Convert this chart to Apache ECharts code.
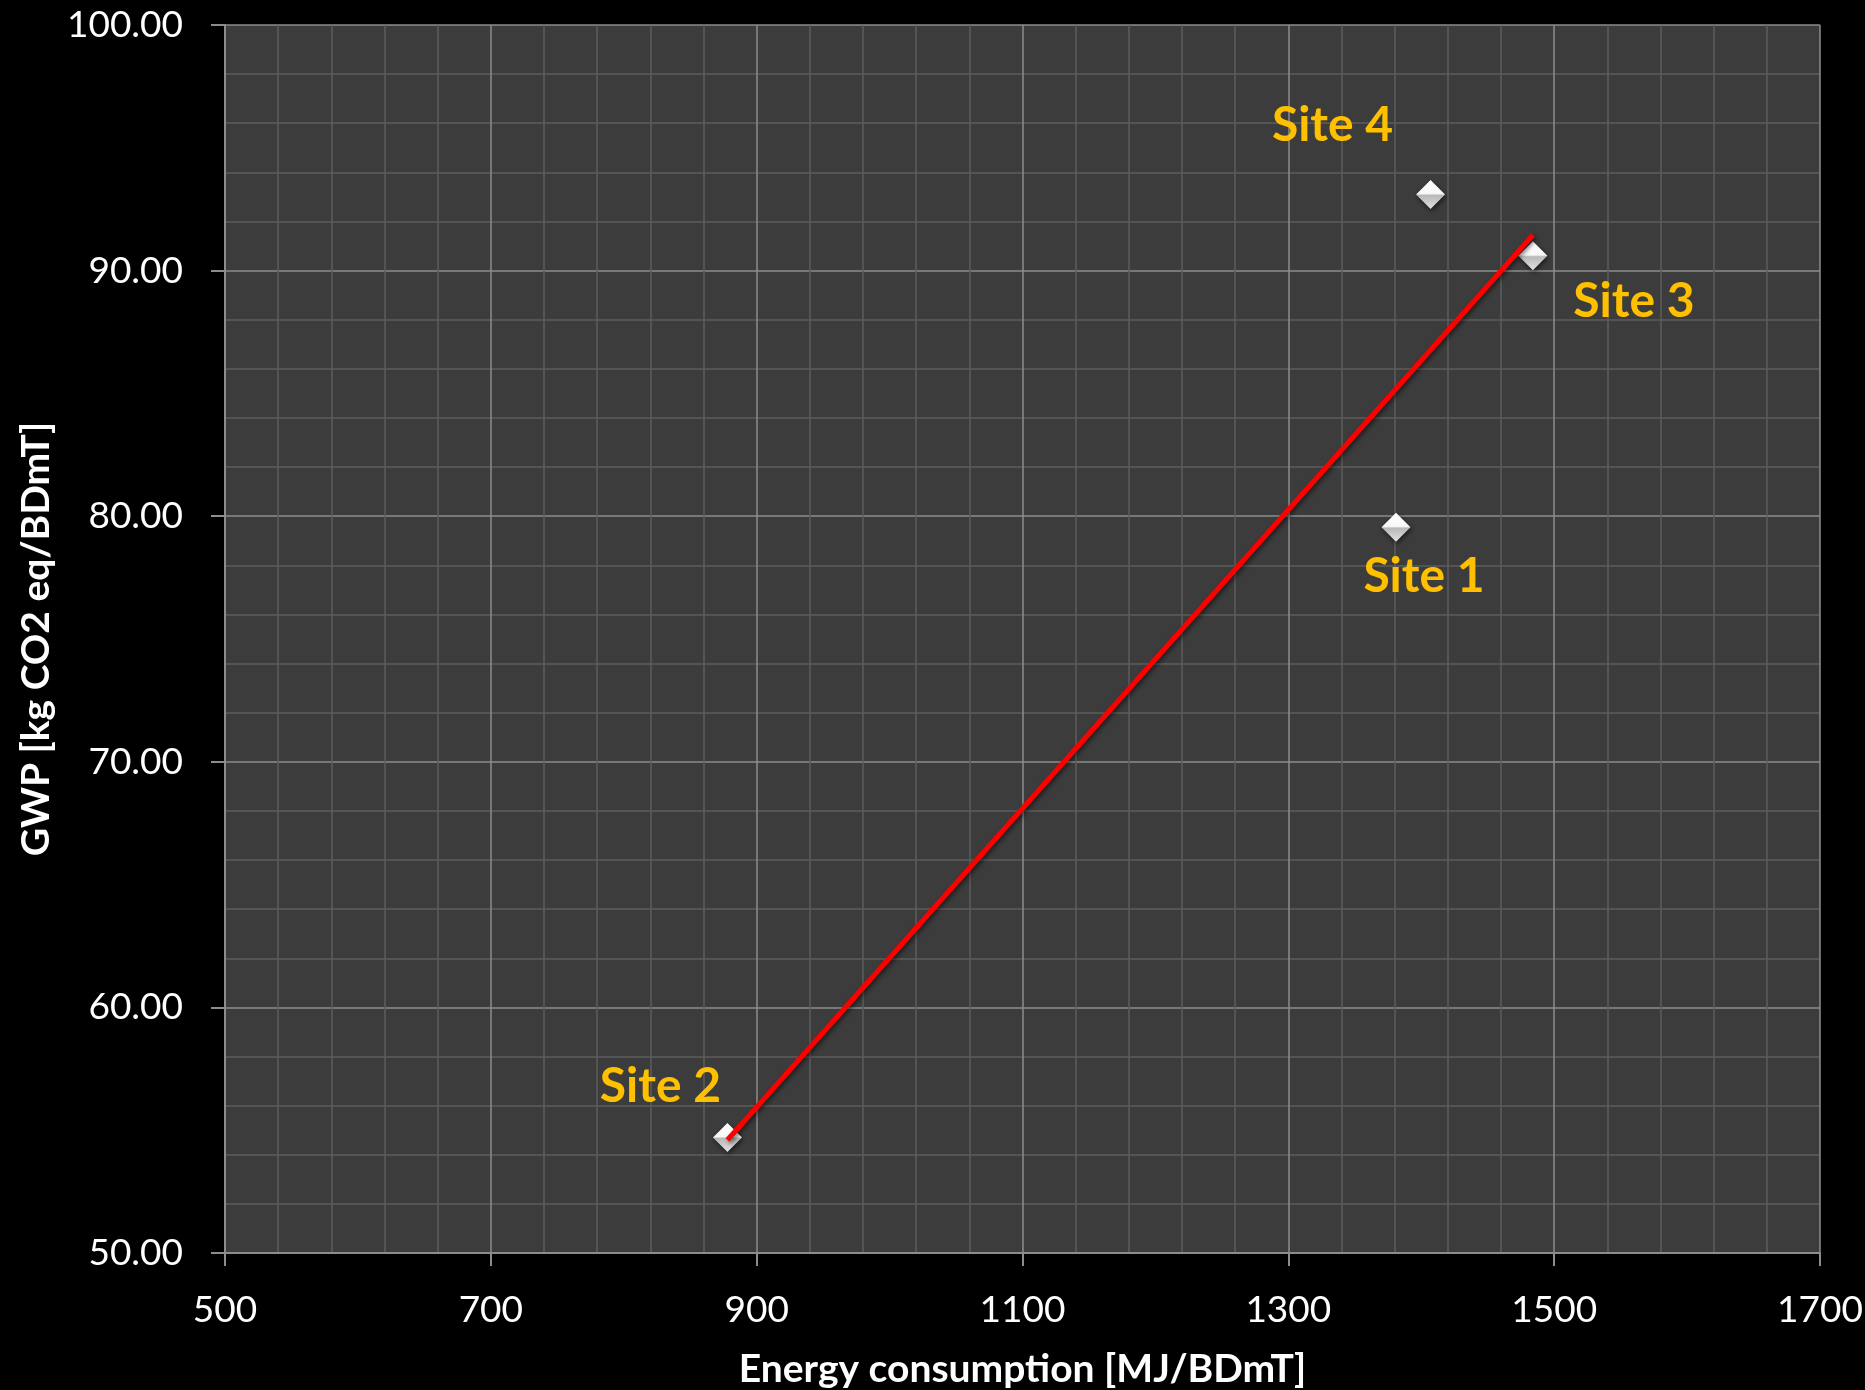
<!DOCTYPE html>
<html>
<head>
<meta charset="utf-8">
<script src="https://cdn.jsdelivr.net/npm/echarts@6/dist/echarts.min.js"></script>
<style>
html,body{margin:0;padding:0;background:#000;}
#chart{width:1865px;height:1390px;}
</style>
</head>
<body>
<div id="chart"></div>
<script>
// ---- data ----
const sites = ['Site 1', 'Site 2', 'Site 3', 'Site 4'];
const energy = [1381, 878, 1484, 1407];           // MJ/BDmT
const gwp = [79.55, 54.7, 90.6, 93.1];            // kg CO2 eq/BDmT
const trendX = [878, 1484];                       // linear trend line ends
const trendY = [54.6, 91.45];
const xTicks = [500, 700, 900, 1100, 1300, 1500, 1700];
const yTicks = [50, 60, 70, 80, 90, 100];

// ---- styling ----
const labelOffsets = [[28, 49], [-67, -51], [101, 46], [-98, -69]];
const MAJOR = '#8c8c8c', MINOR = '#5c5c5c', FONT = 'Lato, "Open Sans", sans-serif';

const xGridColors = [];
for (let i = 0; i < 10; i++) xGridColors.push(i === 0 ? MAJOR : (i % 2 === 0 ? MINOR : 'rgba(0,0,0,0)'));

const chart = echarts.init(document.getElementById('chart'));
chart.setOption({
  backgroundColor: '#000',
  animation: false,
  grid: { left: 225, top: 25, right: 45, bottom: 137, containLabel: false, outerBoundsMode: 'none',
          backgroundColor: '#3c3c3c', show: true, borderWidth: 0 },
  xAxis: [{
    type: 'value', min: xTicks[0], max: xTicks[xTicks.length - 1], position: 'bottom',
    name: 'Energy consumption [MJ/BDmT]', nameLocation: 'middle', nameGap: 97,
    nameTextStyle: { color: '#fff', fontSize: 39, fontWeight: 'bold', fontFamily: FONT },
    axisLine: { show: true, lineStyle: { color: '#8c8c8c', width: 2 } },
    axisTick: { show: true, customValues: xTicks, length: 13, lineStyle: { color: '#8c8c8c', width: 2 } },
    axisLabel: { show: true, customValues: xTicks, margin: 39, color: '#fff', fontSize: 37, fontFamily: FONT,
                 formatter: v => String(v) },
    splitLine: { show: false }
  }, {
    type: 'value', min: xTicks[0], max: xTicks[xTicks.length - 1], interval: 20, position: 'bottom',
    axisLine: { show: false }, axisTick: { show: false }, axisLabel: { show: false },
    splitLine: { show: true, lineStyle: { color: xGridColors, width: 1.5 } }
  }],
  yAxis: {
    type: 'value', min: yTicks[0], max: yTicks[yTicks.length - 1], interval: 10,
    name: 'GWP [kg CO2 eq/BDmT]', nameLocation: 'middle', nameGap: 168, nameRotate: 90,
    nameTextStyle: { color: '#fff', fontSize: 39, fontWeight: 'bold', fontFamily: FONT },
    axisLine: { show: true, lineStyle: { color: '#8c8c8c', width: 2 } },
    axisTick: { show: true, length: 14, lineStyle: { color: '#8c8c8c', width: 2 } },
    axisLabel: { margin: 42, color: '#fff', fontSize: 37, fontFamily: FONT, formatter: v => v.toFixed(2) },
    splitLine: { show: true, lineStyle: { color: MAJOR, width: 1.5 } },
    minorTick: { show: false, splitNumber: 5 },
    minorSplitLine: { show: true, lineStyle: { color: MINOR, width: 1.5 } }
  },
  series: [{
    type: 'scatter', z: 2,
    symbol: 'diamond', symbolSize: 29,
    itemStyle: {
      opacity: 1,
      color: new echarts.graphic.LinearGradient(0, 0, 0, 1, [
        { offset: 0, color: '#ffffff' }, { offset: 0.47, color: '#f8f8f8' },
        { offset: 0.53, color: '#b8b8b8' }, { offset: 1, color: '#e2e2e2' }]),
      shadowColor: 'rgba(0,0,0,0.6)', shadowBlur: 5, shadowOffsetX: 1, shadowOffsetY: 2
    },
    label: {
      show: true, position: 'inside', formatter: p => p.name, opacity: 1,
      color: '#FFC000', fontSize: 48, fontWeight: 'bold', fontFamily: FONT,
      textBorderWidth: 0, textBorderColor: 'transparent'
    },
    data: sites.map((s, i) => ({ name: s, value: [energy[i], gwp[i]], label: { offset: labelOffsets[i] } }))
  }, {
    type: 'line', z: 3, symbol: 'none',
    lineStyle: { color: '#ff0000', width: 5, shadowColor: 'rgba(0,0,0,0.5)', shadowBlur: 4, shadowOffsetX: 2, shadowOffsetY: 2 },
    data: trendX.map((x, i) => [x, trendY[i]])
  }]
});
</script>
</body>
</html>
